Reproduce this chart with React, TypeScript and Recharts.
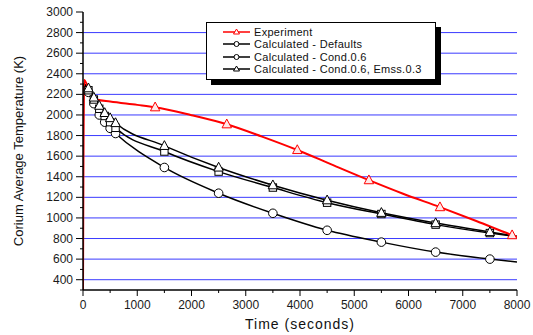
import { LineChart, Line, XAxis, YAxis, ReferenceLine } from 'recharts';

// experiment (red)
const expTime = [0, 20, 100, 250, 500, 1000, 1330, 2000, 2650, 3300, 3950, 4600, 5270, 5900, 6580, 7250, 7910, 8000];
const expTemp = [300, 2340, 2260, 2150, 2130, 2098, 2075, 1998, 1910, 1790, 1660, 1515, 1367, 1235, 1105, 970, 833, 815];
const expMarks = [1330, 2650, 3950, 5270, 6580, 7910];

// calculated runs share the same output times
const calcTime = [0, 10, 100, 200, 300, 400, 500, 600, 1500, 2500, 3500, 4500, 5500, 6500, 7500, 8000];
const defaultsTemp = [1070, 2300, 2220, 2110, 2000, 1930, 1870, 1820, 1490, 1240, 1045, 880, 765, 668, 600, 572];
const condTemp = [1070, 2300, 2240, 2150, 2060, 1990, 1930, 1875, 1645, 1450, 1295, 1148, 1038, 935, 853, 818];
const emssTemp = [1070, 2300, 2260, 2170, 2090, 2020, 1970, 1922, 1700, 1490, 1318, 1172, 1050, 950, 863, 822];
const calcMarks = [100, 200, 300, 400, 500, 600, 1500, 2500, 3500, 4500, 5500, 6500, 7500];

const xMinor = [0, 500, 1000, 1500, 2000, 2500, 3000, 3500, 4000, 4500, 5000, 5500, 6000, 6500, 7000, 7500, 8000];
const yMajor = [400, 600, 800, 1000, 1200, 1400, 1600, 1800, 2000, 2200, 2400, 2600, 2800, 3000];
const yMinor = Array.from({ length: 28 }, (_, i) => 300 + i * 100);

const legendItems = [
  { name: 'Experiment', color: '#ff0000', shape: 'tri' },
  { name: 'Calculated - Defaults', color: '#000', shape: 'circle' },
  { name: 'Calculated - Cond.0.6', color: '#000', shape: 'circle' },
  { name: 'Calculated - Cond.0.6, Emss.0.3', color: '#000', shape: 'tri' },
];

const FONT = 'Arial, "Liberation Sans", sans-serif';

const build = (ts: number[], vs: number[], marks: number[]) =>
  ts.map((t, i) => ({ t, v: vs[i], mk: marks.includes(t) }));

const expData = build(expTime, expTemp, expMarks);
const defaultsData = build(calcTime, defaultsTemp, calcMarks);
const condData = build(calcTime, condTemp, calcMarks);
const emssData = build(calcTime, emssTemp, calcMarks);

const makeDot = (shape: string, stroke: string, fill: string) => (p: any) => {
  const { cx, cy, payload, index } = p;
  if (!payload || !payload.mk || cx == null) return <g key={`n${index}`} />;
  if (shape === 'circle') {
    return <circle key={`c${index}`} cx={cx} cy={cy} r={4.3} fill={fill} stroke={stroke} strokeWidth={1} />;
  }
  if (shape === 'square') {
    return <rect key={`s${index}`} x={cx - 3.7} y={cy - 3.7} width={7.4} height={7.4} fill={fill} stroke={stroke} strokeWidth={1} />;
  }
  return (
    <polygon
      key={`t${index}`}
      points={`${cx},${cy - 5.2} ${cx - 4.7},${cy + 3.6} ${cx + 4.7},${cy + 3.6}`}
      fill={fill}
      stroke={stroke}
      strokeWidth={1}
    />
  );
};

const BottomTick = ({ x, y, payload }: any) => {
  const major = payload.value % 1000 === 0;
  return (
    <g>
      <line x1={x} x2={x} y1={y} y2={y + (major ? 6 : 3)} stroke="#000" />
      {major && (
        <text x={x} y={y + 19} textAnchor="middle" fontSize={12} fontFamily={FONT} fill="#1a1a1a">
          {payload.value}
        </text>
      )}
    </g>
  );
};

const TopTick = ({ x, y }: any) => <line x1={x} x2={x} y1={y} y2={y + 3} stroke="#000" />;

const LeftTick = ({ x, y, payload }: any) => {
  const major = payload.value % 200 === 0 && payload.value >= 400;
  return (
    <g>
      <line x1={x - (major ? 7 : 3)} x2={x} y1={y} y2={y} stroke="#000" />
      {major && (
        <text x={x - 10} y={y + 4} textAnchor="end" fontSize={12} fontFamily={FONT} fill="#1a1a1a">
          {payload.value}
        </text>
      )}
    </g>
  );
};

const RightTick = ({ x, y }: any) => <line x1={x} x2={x + 3} y1={y} y2={y} stroke="#000" />;

function LegendBox() {
  return (
    <div
      style={{
        position: 'absolute',
        left: 206,
        top: 22,
        width: 228,
        height: 53,
        border: '1px solid #000',
        background: '#fff',
        boxShadow: '5px 5px 0 #000',
        fontFamily: FONT,
        fontSize: 11,
        letterSpacing: 0.3,
        paddingTop: 3,
        boxSizing: 'content-box',
      }}
    >
      {legendItems.map((it) => (
        <div key={it.name} style={{ display: 'flex', alignItems: 'center', height: 12.3, lineHeight: '12px' }}>
          <svg width={47} height={12} style={{ flex: 'none' }}>
            <line x1={16} x2={43} y1={6} y2={6} stroke={it.color} strokeWidth={1.5} />
            {it.shape === 'circle' ? (
              <circle cx={29.5} cy={6} r={2.5} fill="#fff" stroke={it.color} />
            ) : (
              <polygon points="29.5,3 26.5,8 32.5,8" fill="#fff" stroke={it.color} />
            )}
          </svg>
          <span style={{ color: '#111', whiteSpace: 'nowrap' }}>{it.name}</span>
        </div>
      ))}
    </div>
  );
}

export default function App() {
  return (
    <div style={{ position: 'absolute', left: 0, top: 0, width: 533, height: 335, background: '#fff' }}>
      <LineChart width={533} height={335} margin={{ top: 12, right: 16, bottom: 4, left: 20 }}>
        <XAxis
          dataKey="t"
          type="number"
          domain={[0, 8000]}
          ticks={xMinor}
          interval={0}
          allowDataOverflow
          height={41}
          tickSize={0}
          tickMargin={0}
          tickLine={false}
          tick={<BottomTick />}
          axisLine={{ stroke: '#000', strokeWidth: 1.5 }}
          label={{
            content: () => (
              <text x={300} y={329} textAnchor="middle" fontSize={14} letterSpacing={1} fontFamily={FONT} fill="#111">
                Time (seconds)
              </text>
            ),
          }}
        />
        <XAxis
          xAxisId="top"
          orientation="top"
          type="number"
          domain={[0, 8000]}
          ticks={xMinor}
          interval={0}
          allowDataOverflow
          height={0}
          tickSize={0}
          tickMargin={0}
          tickLine={false}
          tick={<TopTick />}
          axisLine={{ stroke: '#000', strokeWidth: 1.5 }}
        />
        <YAxis
          type="number"
          domain={[300, 3000]}
          ticks={yMinor}
          interval={0}
          allowDataOverflow
          width={63}
          tickSize={0}
          tickMargin={0}
          tickLine={false}
          tick={<LeftTick />}
          axisLine={{ stroke: '#000', strokeWidth: 1.5 }}
          label={{
            content: () => (
              <text transform="translate(23,151) rotate(-90)" textAnchor="middle" fontSize={13} fontFamily={FONT} fill="#111">
                Corium Average Temperature (K)
              </text>
            ),
          }}
        />
        <YAxis
          yAxisId="right"
          orientation="right"
          type="number"
          domain={[300, 3000]}
          ticks={yMinor}
          interval={0}
          allowDataOverflow
          width={0}
          tickSize={0}
          tickMargin={0}
          tickLine={false}
          tick={<RightTick />}
          axisLine={{ stroke: '#000', strokeWidth: 1.5 }}
        />
        {yMajor.slice(0, -1).map((v) => (
          <ReferenceLine key={v} y={v} stroke="#3a3aff" strokeWidth={1} ifOverflow="hidden" />
        ))}
        <Line
          data={defaultsData}
          dataKey="v"
          type="monotone"
          stroke="#000"
          strokeWidth={1.5}
          dot={makeDot('circle', '#000', '#fff')}
          isAnimationActive={false}
        />
        <Line
          data={condData}
          dataKey="v"
          type="monotone"
          stroke="#000"
          strokeWidth={1.5}
          dot={makeDot('square', '#000', '#fff')}
          isAnimationActive={false}
        />
        <Line
          data={emssData}
          dataKey="v"
          type="monotone"
          stroke="#000"
          strokeWidth={1.5}
          dot={makeDot('tri', '#000', '#fff')}
          isAnimationActive={false}
        />
        <Line
          data={expData}
          dataKey="v"
          type="monotone"
          stroke="#ff0000"
          strokeWidth={2}
          dot={makeDot('tri', '#ff0000', '#ffe8e8')}
          isAnimationActive={false}
        />
      </LineChart>
      <LegendBox />
    </div>
  );
}
